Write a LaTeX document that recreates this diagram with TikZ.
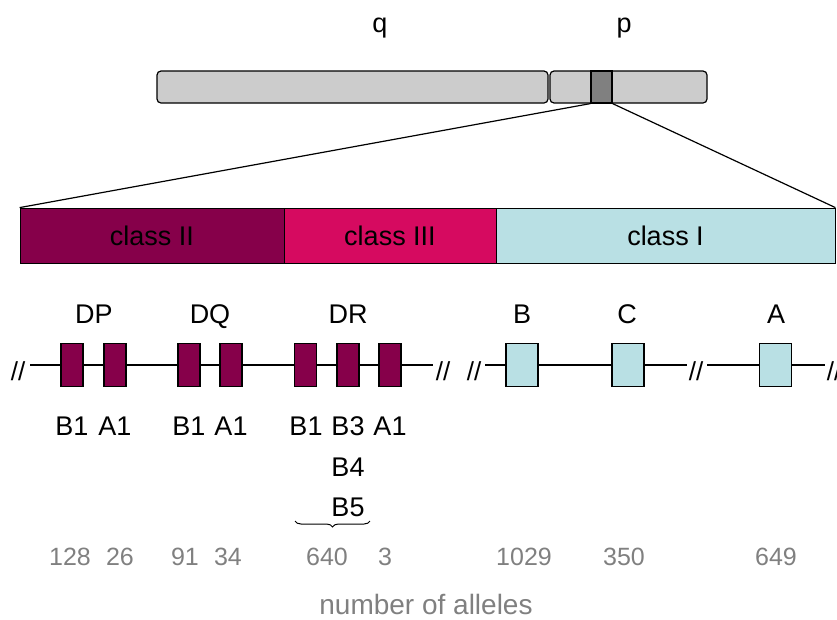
\documentclass[tikz,border=0pt]{standalone}
\usepackage{fontspec}
\setmainfont{Liberation Sans}
\usetikzlibrary{decorations.pathreplacing}
\definecolor{clsII}{RGB}{134,0,74}
\definecolor{clsIII}{RGB}{214,10,96}
\definecolor{clsI}{RGB}{185,224,228}
\definecolor{arm}{RGB}{204,204,204}
\definecolor{band}{RGB}{128,128,128}
\definecolor{numgray}{RGB}{128,128,128}
\tikzset{
  armbox/.style={draw, line width=1.2pt, fill=arm, rounded corners=4pt, inner sep=0pt},
  classbox/.style={draw, line width=0.8pt, inner sep=0pt, font=\fontsize{27}{32}\selectfont},
  exonII/.style={draw, line width=1.2pt, fill=clsII, minimum width=22pt, minimum height=43pt, inner sep=0pt},
  exonI/.style={draw, line width=1.2pt, fill=clsI, minimum width=32pt, minimum height=43pt, inner sep=0pt},
  lab/.style={font=\fontsize{27}{32}\selectfont, inner sep=0pt},
  gene/.style={font=\fontsize{27}{32}\selectfont, inner sep=0pt, anchor=base},
  num/.style={font=\fontsize{25}{30}\selectfont, text=numgray, inner sep=0pt},
  brk/.style={font=\fontsize{26}{30}\selectfont, inner sep=0pt},
  backbone/.style={line width=1.2pt},
}
\begin{document}
\begin{tikzpicture}[x=1pt,y=-1pt]
\useasboundingbox (0,0) rectangle (837,619);

% chromosome
\node[armbox, minimum width=391pt, minimum height=32pt] (qarm) at (352.5,87) {};
\node[armbox, minimum width=157pt, minimum height=32pt] (parm) at (628.5,87) {};
\node[draw, line width=1.2pt, fill=band, minimum width=21pt, minimum height=32pt, inner sep=0pt] (cen) at (601.5,87) {};
\node[lab] (qlab) at (380,28) {q};
\node[lab] (plab) at (624,28) {p};

% class bar
\node[classbox, fill=clsII, minimum width=264pt, minimum height=55pt] (c2) at (152,235.5) {class II};
\node[classbox, fill=clsIII, minimum width=212pt, minimum height=55pt] (c3) at (390,235.5) {class III};
\node[classbox, fill=clsI, minimum width=339pt, minimum height=55pt] (c1) at (665.5,235.5) {class I};

% zoom lines
\draw[line width=1.2pt] (cen.south west) -- (c2.north west);
\draw[line width=1.2pt] (cen.south east) -- (c1.north east);

% class II backbone
\coordinate (l2s) at (30,365);
\coordinate (l2e) at (433,365);
\draw[backbone] (l2s) -- (l2e);
\node[brk] (b1) at (18,371) {//};
\node[brk] (b2) at (443,371) {//};
\node[exonII] (dpb) at (72,365) {};
\node[exonII] (dpa) at (115,365) {};
\node[exonII] (dqb) at (189,365) {};
\node[exonII] (dqa) at (231,365) {};
\node[exonII] (drb) at (305.5,365) {};
\node[exonII] (drb3) at (348,365) {};
\node[exonII] (dra) at (390,365) {};

% class I backbone
\coordinate (l1s) at (485,365);
\coordinate (l1m) at (687,365);
\coordinate (l1n) at (707,365);
\coordinate (l1e) at (825,365);
\draw[backbone] (l1s) -- (l1m);
\draw[backbone] (l1n) -- (l1e);
\node[brk] (b3) at (474,371) {//};
\node[brk] (b4) at (696,371) {//};
\node[brk] (b5) at (834,371) {//};
\node[exonI] (gb) at (522,365) {};
\node[exonI] (gc) at (628,365) {};
\node[exonI] (ga) at (775.5,365) {};

% locus names
\node[gene] (ndp) at (94,323) {DP};
\node[gene] (ndq) at (210,323) {DQ};
\node[gene] (ndr) at (348,323) {DR};
\node[gene] (nb) at (522,323) {B};
\node[gene] (nc) at (627,323) {C};
\node[gene] (na) at (776,323) {A};

% gene names
\node[gene] (tdpb) at (72,435) {B1};
\node[gene] (tdpa) at (115,435) {A1};
\node[gene] (tdqb) at (189,435) {B1};
\node[gene] (tdqa) at (231,435) {A1};
\node[gene] (tdrb) at (306,435) {B1};
\node[gene] (tdrb3) at (348,435) {B3};
\node[gene] (tdra) at (390,435) {A1};
\node[gene] (tdrb4) at (348,476) {B4};
\node[gene] (tdrb5) at (348,516) {B5};

% brace grouping DRB1/B3/B4/B5
\coordinate (brl) at (295,521);
\coordinate (brr) at (370,521);
\draw[line width=1pt, decorate, decoration={brace, mirror, amplitude=6pt}] (brl) -- (brr);

% allele counts
\node[num] (n1) at (70,557) {128};
\node[num] (n2) at (120,557) {26};
\node[num] (n3) at (185,557) {91};
\node[num] (n4) at (228,557) {34};
\node[num] (n5) at (327,557) {640};
\node[num] (n6) at (385,557) {3};
\node[num] (n7) at (524,557) {1029};
\node[num] (n8) at (624,557) {350};
\node[num] (n9) at (776,557) {649};
\node[num, font=\fontsize{28}{32}\selectfont, anchor=base] (nlab) at (426,614) {number of alleles};
\end{tikzpicture}
\end{document}
